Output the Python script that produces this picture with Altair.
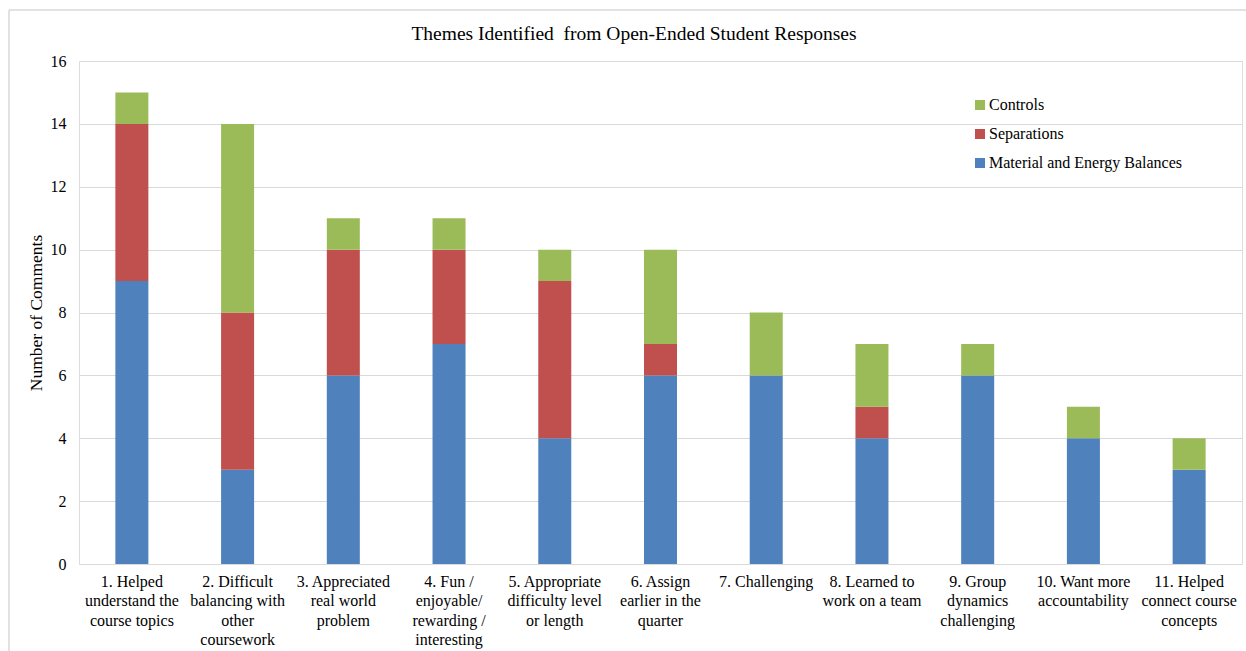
import altair as alt
import pandas as pd

FONT = "'Liberation Serif', 'Times New Roman', Times, serif"

categories = [
    "1. Helped|understand the|course topics",
    "2. Difficult|balancing with|other|coursework",
    "3. Appreciated|real world|problem",
    "4. Fun /|enjoyable/|rewarding /|interesting",
    "5. Appropriate|difficulty level|or length",
    "6. Assign|earlier in the|quarter",
    "7. Challenging",
    "8. Learned to|work on a team",
    "9. Group|dynamics|challenging",
    "10. Want more|accountability",
    "11. Helped|connect course|concepts",
]
meb = [9, 3, 6, 7, 4, 6, 6, 4, 6, 4, 3]
separations = [5, 5, 4, 3, 5, 1, 0, 1, 0, 0, 0]
controls = [1, 6, 1, 1, 1, 3, 2, 2, 1, 1, 1]

series_names = ["Material and Energy Balances", "Separations", "Controls"]
series_values = [meb, separations, controls]
series_colors = ["#4f81bd", "#c0504d", "#9bbb59"]

chart_title = "Themes Identified\u00a0 from Open-Ended Student Responses"

rows = []
for si, (name, vals) in enumerate(zip(series_names, series_values)):
    for cat, v in zip(categories, vals):
        rows.append({"theme": cat, "series": name, "value": v, "stack": si})
df = pd.DataFrame(rows)

legend_order = list(reversed(series_names))
legend_colors = list(reversed(series_colors))

bars = alt.Chart(df).mark_bar(size=33).encode(
    x=alt.X(
        "theme:N",
        sort=categories,
        scale=alt.Scale(paddingInner=0.69, paddingOuter=0.345),
        axis=alt.Axis(
            title=None,
            labelExpr="split(datum.label, '|')",
            labelAngle=0,
            labelFont=FONT,
            labelFontSize=16,
            labelColor="#000000",
            labelLineHeight=19.5,
            labelBaseline="top",
            labelPadding=9,
            labelLimit=0,
            labelOverlap=False,
            ticks=False,
            domain=True,
            domainColor="#d9d9d9",
            domainWidth=1.2,
            grid=False,
        ),
    ),
    y=alt.Y(
        "value:Q",
        stack="zero",
        scale=alt.Scale(domain=[0, 16], nice=False),
        axis=alt.Axis(
            title="Number of Comments",
            titleFont=FONT,
            titleFontSize=17.5,
            titleFontWeight="normal",
            titleColor="#000000",
            titlePadding=5,
            values=list(range(0, 17, 2)),
            labelFont=FONT,
            labelFontSize=16,
            labelColor="#000000",
            labelPadding=13,
            ticks=False,
            domain=False,
            grid=True,
            gridColor="#d9d9d9",
            gridWidth=1.2,
        ),
    ),
    color=alt.Color(
        "series:N",
        scale=alt.Scale(domain=legend_order, range=legend_colors),
        legend=alt.Legend(
            title=None,
            orient="none",
            legendX=893,
            legendY=36,
            symbolType="square",
            symbolSize=100,
            symbolStrokeWidth=0,
            labelFont=FONT,
            labelFontSize=16,
            labelColor="#000000",
            labelOffset=1,
            labelLimit=0,
            rowPadding=13,
        ),
    ),
    order=alt.Order("stack:Q", sort="ascending"),
)

one = alt.Data(values=[{"t": chart_title}])

frame_top = alt.Chart(one).mark_rule(color="#d9d9d9", strokeWidth=1.5).encode(
    x=alt.value(-70), x2=alt.value(1200), y=alt.value(-51)
)
frame_left = alt.Chart(one).mark_rule(color="#d9d9d9", strokeWidth=1.5).encode(
    x=alt.value(-70), y=alt.value(-51), y2=alt.value(700)
)
title = alt.Chart(one).mark_text(
    font=FONT, fontSize=19.5, color="#000000", align="center", baseline="alphabetic"
).encode(text="t:N", x=alt.value(555), y=alt.value(-21))

chart = alt.layer(frame_top, frame_left, title, bars).properties(
    width=1163,
    height=503,
    autosize=alt.AutoSizeParams(type="none"),
    padding={"left": 79, "top": 61, "right": 4, "bottom": 87},
).configure_view(stroke=None).configure(background="white", font=FONT)

chart.save("out.html", embed_options={"renderer": "svg", "actions": False})
